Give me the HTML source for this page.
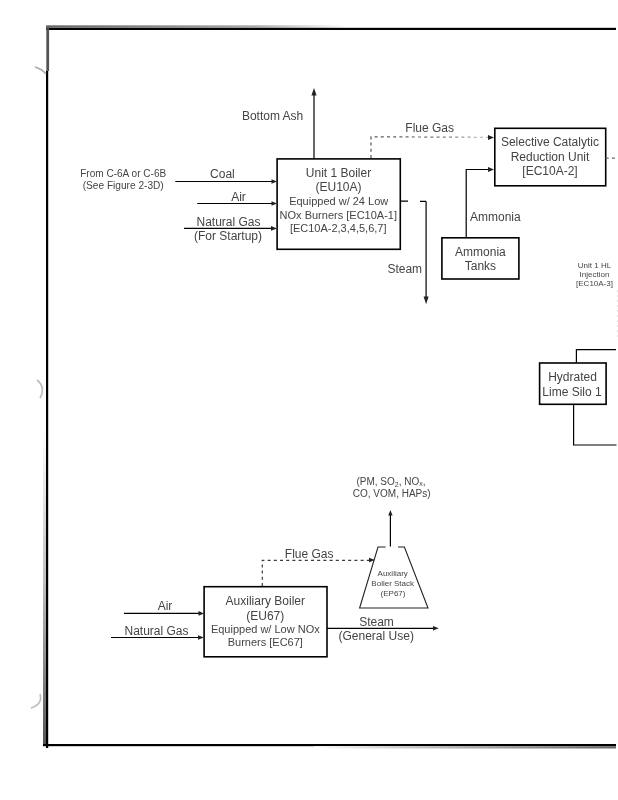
<!DOCTYPE html>
<html>
<head>
<meta charset="utf-8">
<style>
html,body{margin:0;padding:0;background:#fff;width:618px;height:800px;overflow:hidden;}
svg{display:block;position:absolute;left:0;top:0;filter:grayscale(1);}
text{font-family:"Liberation Sans",sans-serif;fill:#444;}
.t12{font-size:12px;}
.t11{font-size:11px;}
.t10{font-size:10px;}
.t8{font-size:8px;}
.ln{stroke:#000;stroke-width:1.2;fill:none;}
.ln2{stroke:#222;stroke-width:1.1;fill:none;}
.bx{stroke:#000;stroke-width:1.6;fill:none;}
.ds{stroke:#666;stroke-width:1.2;fill:none;stroke-dasharray:3 3.2;}
.ah{fill:#222;}
</style>
</head>
<body>
<svg width="618" height="800" viewBox="0 0 618 800">
<!-- page border -->
<defs>
<linearGradient id="gtop" x1="0" x2="1" y1="0" y2="0"><stop offset="0" stop-color="#666"/><stop offset="0.7" stop-color="#aaa"/><stop offset="1" stop-color="#fff"/></linearGradient>
<linearGradient id="gleft" x1="0" x2="0" y1="0" y2="1"><stop offset="0" stop-color="#fff"/><stop offset="0.5" stop-color="#bbb"/><stop offset="1" stop-color="#555"/></linearGradient>
<linearGradient id="gbot" x1="0" x2="1" y1="0" y2="0"><stop offset="0" stop-color="#fff"/><stop offset="0.4" stop-color="#bbb"/><stop offset="1" stop-color="#666"/></linearGradient>
<linearGradient id="gfl" gradientUnits="userSpaceOnUse" x1="371" y1="0" x2="490" y2="0"><stop offset="0" stop-color="#555"/><stop offset="0.55" stop-color="#777"/><stop offset="1" stop-color="#bbb"/></linearGradient>
</defs>
<rect x="46" y="25.3" width="300" height="2.4" fill="url(#gtop)"/>
<rect x="46" y="27.8" width="570" height="2.2" fill="#000"/>
<rect x="46.3" y="27" width="2.8" height="44" fill="#555"/>
<rect x="46" y="71" width="2.2" height="677" fill="#000"/>
<rect x="43" y="430" width="3" height="314" fill="url(#gleft)"/>
<rect x="43" y="744" width="573" height="2.2" fill="#000"/>
<rect x="314" y="746.2" width="302" height="2.3" fill="url(#gbot)"/>
<path d="M35 67 Q42 69 46 74" stroke="#aaa" stroke-width="1.6" fill="none"/>
<path d="M37 380 Q46 387 40 398" stroke="#bbb" stroke-width="1.6" fill="none"/>
<path d="M40 694 Q43 704 31 708" stroke="#bbb" stroke-width="1.6" fill="none"/>

<!-- ===== Unit 1 Boiler ===== -->
<rect class="bx" x="277.1" y="158.9" width="123.2" height="90.4"/>
<text class="t12" x="338.5" y="176.8" text-anchor="middle">Unit 1 Boiler</text>
<text class="t12" x="338.5" y="191.4" text-anchor="middle">(EU10A)</text>
<text class="t11" x="338.7" y="205.2" text-anchor="middle">Equipped w/ 24 Low</text>
<text class="t11" x="338.3" y="218.7" text-anchor="middle">NOx Burners [EC10A-1]</text>
<text class="t11" x="338.2" y="232.2" text-anchor="middle">[EC10A-2,3,4,5,6,7]</text>

<!-- Bottom ash -->
<line class="ln" x1="314" y1="159" x2="314" y2="93"/>
<path class="ah" d="M314 88 L316.6 95.5 L311.4 95.5 Z"/>
<text class="t12" x="241.9" y="120">Bottom Ash</text>

<!-- Flue gas to SCR -->
<path class="ds" d="M371 158 L371 136.8 L489 137.3" style="stroke:url(#gfl)"/>
<path class="ah" d="M494 137.5 L488 135 L488 140 Z" fill="#555"/>
<text class="t12" x="405.3" y="131.6">Flue Gas</text>

<!-- Steam -->
<path class="ln" d="M400.5 201.2 L408 201.2 M420 201.4 L426 201.4"/>
<line class="ln" x1="426.1" y1="201.2" x2="426.1" y2="298"/>
<path class="ah" d="M426.1 304.3 L423.6 296.5 L428.6 296.5 Z"/>
<text class="t12" x="387.4" y="272.8">Steam</text>

<!-- inputs -->
<text class="t10" x="123.2" y="176.6" text-anchor="middle" textLength="86" lengthAdjust="spacingAndGlyphs">From C-6A or C-6B</text>
<text class="t10" x="123.2" y="188.6" text-anchor="middle" textLength="81" lengthAdjust="spacingAndGlyphs">(See Figure 2-3D)</text>
<line class="ln" x1="175.3" y1="181.5" x2="272" y2="181.5"/>
<path class="ah" d="M277 181.5 L271.5 179.2 L271.5 183.8 Z"/>
<text class="t12" x="222.4" y="178" text-anchor="middle">Coal</text>
<line class="ln" x1="197.2" y1="203.5" x2="272" y2="203.5"/>
<path class="ah" d="M277 203.5 L271.5 201.2 L271.5 205.8 Z"/>
<text class="t12" x="238.5" y="200.8" text-anchor="middle">Air</text>
<line class="ln" x1="184" y1="228.4" x2="272" y2="228.4"/>
<path class="ah" d="M277 228.4 L271 226.1 L271 230.7 Z"/>
<text class="t12" x="228.5" y="226.3" text-anchor="middle">Natural Gas</text>
<text class="t12" x="228" y="239.9" text-anchor="middle">(For Startup)</text>

<!-- ===== SCR ===== -->
<rect class="bx" x="494.8" y="128.3" width="110.9" height="57.5"/>
<text class="t12" x="549.9" y="145.7" text-anchor="middle">Selective Catalytic</text>
<text class="t12" x="550" y="160.9" text-anchor="middle">Reduction Unit</text>
<text class="t12" x="550" y="175.4" text-anchor="middle">[EC10A-2]</text>
<path class="ds" d="M605.7 158.2 L618 158.2"/>

<!-- Ammonia -->
<path class="ln" d="M466.2 237.8 L466.2 169.5 L489 169.5"/>
<path class="ah" d="M494 169.5 L488 167 L488 172 Z" fill="#444"/>
<text class="t12" x="470" y="221">Ammonia</text>
<rect class="bx" x="441.9" y="237.8" width="77" height="41.2"/>
<text class="t12" x="480.4" y="256.2" text-anchor="middle">Ammonia</text>
<text class="t12" x="480.4" y="270.2" text-anchor="middle">Tanks</text>

<!-- HL injection -->
<text class="t8" x="594.5" y="267.8" text-anchor="middle">Unit 1 HL</text>
<text class="t8" x="594.5" y="276.8" text-anchor="middle">Injection</text>
<text class="t8" x="594.5" y="286.3" text-anchor="middle">[EC10A-3]</text>
<path d="M617.5 290 L617.5 340" stroke="#e4e4e4" stroke-width="1" stroke-dasharray="2 3"/>

<!-- Hydrated lime silo -->
<rect class="bx" x="539.6" y="363" width="66.5" height="41.3"/>
<text class="t12" x="572.5" y="381" text-anchor="middle">Hydrated</text>
<text class="t12" x="572" y="395.8" text-anchor="middle">Lime Silo 1</text>
<path class="ln" d="M576.4 363 L576.4 349.7 L616 349.7"/>
<path class="ln" d="M573.6 404.3 L573.6 445 L616.5 445"/>

<!-- ===== Auxiliary Boiler ===== -->
<rect class="bx" x="204.1" y="586.7" width="122.9" height="70.1"/>
<text class="t12" x="265.3" y="605" text-anchor="middle">Auxiliary Boiler</text>
<text class="t12" x="265.3" y="619.8" text-anchor="middle">(EU67)</text>
<text class="t11" x="265.3" y="632.8" text-anchor="middle">Equipped w/ Low NOx</text>
<text class="t11" x="265.3" y="646" text-anchor="middle">Burners [EC67]</text>

<line class="ln" x1="124" y1="613.4" x2="199" y2="613.4"/>
<path class="ah" d="M204 613.4 L198.5 611.1 L198.5 615.7 Z"/>
<text class="t12" x="165" y="609.8" text-anchor="middle">Air</text>
<line class="ln" x1="111" y1="637.5" x2="199" y2="637.5"/>
<path class="ah" d="M204 637.5 L198 635.2 L198 639.8 Z"/>
<text class="t12" x="156.5" y="634.5" text-anchor="middle">Natural Gas</text>

<!-- aux flue gas -->
<path class="ds" d="M262.3 586 L262.3 560.3 L370 560.3" style="stroke:#3a3a3a"/>
<path class="ah" d="M375 560 L369 557.7 L369 562.3 Z"/>
<text class="t12" x="309.2" y="557.7" text-anchor="middle">Flue Gas</text>

<!-- stack -->
<path class="ln2" d="M385.6 547 L378 547 L359.6 608 L428 608 L404.4 547 L398 547"/>
<line class="ln" x1="390.4" y1="546.6" x2="390.4" y2="513"/>
<path class="ah" d="M390.4 510 L392.6 515.5 L388.2 515.5 Z"/>
<text class="t8" x="392.7" y="576" text-anchor="middle">Auxiliary</text>
<text class="t8" x="392.7" y="586" text-anchor="middle">Boiler Stack</text>
<text class="t8" x="393" y="595.8" text-anchor="middle">(EP67)</text>
<text class="t10" x="391" y="484.8" text-anchor="middle">(PM, SO<tspan font-size="7" dy="2">2</tspan><tspan dy="-2">, NO</tspan><tspan font-size="7" dy="1">x</tspan><tspan dy="-1">,</tspan></text>
<text class="t10" x="391.7" y="497.3" text-anchor="middle">CO, VOM, HAPs)</text>

<!-- steam general use -->
<line class="ln" x1="327" y1="628.3" x2="433" y2="628.3"/>
<path class="ah" d="M438.8 628.3 L433 626 L433 630.6 Z"/>
<text class="t12" x="376.5" y="625.7" text-anchor="middle">Steam</text>
<text class="t12" x="376.2" y="640.4" text-anchor="middle">(General Use)</text>
</svg>
</body>
</html>
